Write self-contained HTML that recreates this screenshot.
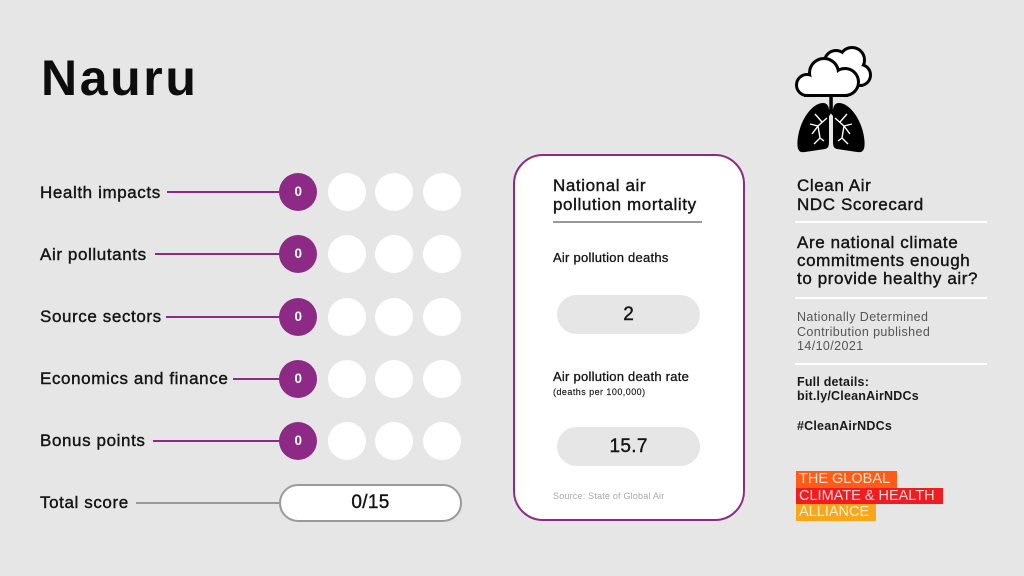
<!DOCTYPE html>
<html><head><meta charset="utf-8"><style>
*{margin:0;padding:0;box-sizing:border-box}
body{width:1024px;height:576px;background:#e6e6e6;position:relative;overflow:hidden;font-family:"Liberation Sans",Arial,sans-serif;color:#141414}
.a{position:absolute;white-space:nowrap}
.lab{font-size:17px;line-height:20px;letter-spacing:.6px;-webkit-text-stroke:.4px #141414}
.ln{position:absolute;height:2px;background:#8c2a86}
.c{position:absolute;width:38px;height:38px;border-radius:50%;background:#fff}
.p{background:#8c2a86;color:#fff;font-size:13.5px;font-weight:bold;text-align:center;line-height:38px}
.pill{position:absolute;border-radius:20px;background:#e6e6e6;text-align:center;font-size:19px;line-height:39px;letter-spacing:.3px;-webkit-text-stroke:.4px #141414}
.hr{position:absolute;height:2px;background:#fff}
</style></head><body>

<div class="a" style="left:41px;top:47.7px;font-size:50px;line-height:60px;font-weight:bold;letter-spacing:2.6px;color:#0d0d0d">Nauru</div>

<!-- rows -->
<div class="a lab" style="left:40px;top:182.5px">Health impacts</div>
<div class="ln" style="left:167px;width:115px;top:191.3px"></div>
<div class="a lab" style="left:40px;top:244.5px">Air pollutants</div>
<div class="ln" style="left:155px;width:127px;top:253.3px"></div>
<div class="a lab" style="left:40px;top:306.9px">Source sectors</div>
<div class="ln" style="left:166px;width:116px;top:315.7px"></div>
<div class="a lab" style="left:40px;top:369.2px">Economics and finance</div>
<div class="ln" style="left:233px;width:49px;top:378px"></div>
<div class="a lab" style="left:40px;top:431.2px">Bonus points</div>
<div class="ln" style="left:153px;width:129px;top:440px"></div>
<div class="a lab" style="left:40px;top:493.2px">Total score</div>
<div class="ln" style="left:136px;width:146px;top:502px;background:#999"></div>

<div class="c p" style="left:279.3px;top:173.3px">0</div>
<div class="c" style="left:327.7px;top:173.3px"></div>
<div class="c" style="left:375.3px;top:173.3px"></div>
<div class="c" style="left:423.3px;top:173.3px"></div>

<div class="c p" style="left:279.3px;top:235.3px">0</div>
<div class="c" style="left:327.7px;top:235.3px"></div>
<div class="c" style="left:375.3px;top:235.3px"></div>
<div class="c" style="left:423.3px;top:235.3px"></div>

<div class="c p" style="left:279.3px;top:297.7px">0</div>
<div class="c" style="left:327.7px;top:297.7px"></div>
<div class="c" style="left:375.3px;top:297.7px"></div>
<div class="c" style="left:423.3px;top:297.7px"></div>

<div class="c p" style="left:279.3px;top:360px">0</div>
<div class="c" style="left:327.7px;top:360px"></div>
<div class="c" style="left:375.3px;top:360px"></div>
<div class="c" style="left:423.3px;top:360px"></div>

<div class="c p" style="left:279.3px;top:422px">0</div>
<div class="c" style="left:327.7px;top:422px"></div>
<div class="c" style="left:375.3px;top:422px"></div>
<div class="c" style="left:423.3px;top:422px"></div>

<div class="a" style="left:279.3px;top:484px;width:182.4px;height:37.7px;border:2px solid #9a9a9a;border-radius:19px;background:#fff;text-align:center;font-size:19px;line-height:33.7px;letter-spacing:.3px;-webkit-text-stroke:.4px #141414">0/15</div>

<!-- card -->
<div class="a" style="left:512.7px;top:154px;width:232.3px;height:366.7px;border:2px solid #8c2a86;border-radius:30px;background:#fff"></div>
<div class="a lab" style="left:553px;top:176.3px;line-height:19px">National air</div>
<div class="a lab" style="left:553px;top:195.3px;line-height:19px">pollution mortality</div>
<div class="a" style="left:553px;top:221px;width:149px;height:2px;background:#9a9a9a"></div>
<div class="a" style="left:553px;top:250.2px;font-size:13px;line-height:16px;letter-spacing:.25px;-webkit-text-stroke:.3px #141414">Air pollution deaths</div>
<div class="pill" style="left:557.3px;top:295px;width:142.7px;height:39px">2</div>
<div class="a" style="left:553px;top:369.2px;font-size:13px;line-height:16px;letter-spacing:.25px;-webkit-text-stroke:.3px #141414">Air pollution death rate</div>
<div class="a" style="left:553px;top:387.3px;font-size:9px;line-height:10px;letter-spacing:.45px;-webkit-text-stroke:.15px #141414">(deaths per 100,000)</div>
<div class="pill" style="left:557.3px;top:426.7px;width:142.7px;height:39px">15.7</div>
<div class="a" style="left:553px;top:489.5px;font-size:9px;line-height:12px;letter-spacing:.2px;color:#a8a8a8">Source: State of Global Air</div>

<!-- right column icon -->
<svg class="a" style="left:0;top:0" width="1024" height="576" viewBox="0 0 1024 576">
 <g stroke="#000" stroke-width="6" fill="#000">
  <circle cx="836" cy="62" r="10"/><circle cx="852" cy="60" r="11"/><circle cx="860" cy="75" r="9"/><rect x="836" y="62" width="24" height="22"/>
 </g>
 <g fill="#fff">
  <circle cx="836" cy="62" r="10"/><circle cx="852" cy="60" r="11"/><circle cx="860" cy="75" r="9"/><rect x="836" y="62" width="24" height="22"/>
 </g>
 <g stroke="#000" stroke-width="6" fill="#000">
  <circle cx="807" cy="85" r="9"/><circle cx="824" cy="73" r="13"/><circle cx="845" cy="82" r="12"/><rect x="807" y="80" width="38" height="14"/>
 </g>
 <g fill="#fff">
  <circle cx="807" cy="85" r="9"/><circle cx="824" cy="73" r="13"/><circle cx="845" cy="82" r="12"/><rect x="807" y="80" width="38" height="14"/>
 </g>
 <rect x="829.3" y="97" width="3.5" height="16" fill="#000"/>
 <path d="M831 110 L825 118 M831 110 L837 118" stroke="#000" stroke-width="4" fill="none"/>
 <g id="lung">
  <path d="M823 103 C812 103 799 121 797.5 141 C797 150 799 153 805 152 L825 149 C828.5 148 829 146 829 141 L829 111 C829 106 827 103 823 103 Z" fill="#000"/>
  <path d="M827 118 L818 126 L810 124 M818 126 L812 134 M822 122 L815 114 M818 126 L820 138 L814 144 M820 138 L824 141" stroke="#fff" stroke-width="1.4" fill="none"/>
 </g>
 <use href="#lung" transform="translate(1662,0) scale(-1,1)"/>
</svg>

<div class="a lab" style="left:797px;top:176.3px;line-height:19px">Clean Air</div>
<div class="a lab" style="left:797px;top:195.3px;line-height:19px">NDC Scorecard</div>
<div class="hr" style="left:795px;width:192px;top:220.7px"></div>
<div class="a lab" style="left:797px;top:233.6px;line-height:18px">Are national climate</div>
<div class="a lab" style="left:797px;top:251.6px;line-height:18px">commitments enough</div>
<div class="a lab" style="left:797px;top:269.6px;line-height:18px">to provide healthy air?</div>
<div class="hr" style="left:795px;width:192px;top:297.3px"></div>
<div class="a" style="left:797px;top:310.1px;font-size:12.5px;line-height:14.5px;letter-spacing:.4px;color:#555">Nationally Determined<br>Contribution published<br>14/10/2021</div>
<div class="hr" style="left:795px;width:192px;top:363px"></div>
<div class="a" style="left:797px;top:375.2px;font-size:12.5px;line-height:14.3px;letter-spacing:.2px;font-weight:bold;color:#1a1a1a">Full details:<br>bit.ly/CleanAirNDCs</div>
<div class="a" style="left:797px;top:418.5px;font-size:12.5px;line-height:14.3px;letter-spacing:.2px;font-weight:bold;color:#1a1a1a">#CleanAirNDCs</div>

<div class="a" style="left:796px;top:471px;width:101px;height:16.5px;background:#ff5d17;color:rgba(255,235,220,.92);font-size:14.5px;line-height:17px;padding-left:3px">THE GLOBAL</div>
<div class="a" style="left:796px;top:487.5px;width:147px;height:16.5px;background:#ef1d22;color:rgba(255,225,220,.92);font-size:14.5px;line-height:17px;padding-left:3px">CLIMATE &amp; HEALTH</div>
<div class="a" style="left:796px;top:504px;width:80px;height:17px;background:#f9a61b;color:rgba(255,245,225,.92);font-size:14.5px;line-height:17px;padding-left:3px">ALLIANCE</div>

</body></html>
